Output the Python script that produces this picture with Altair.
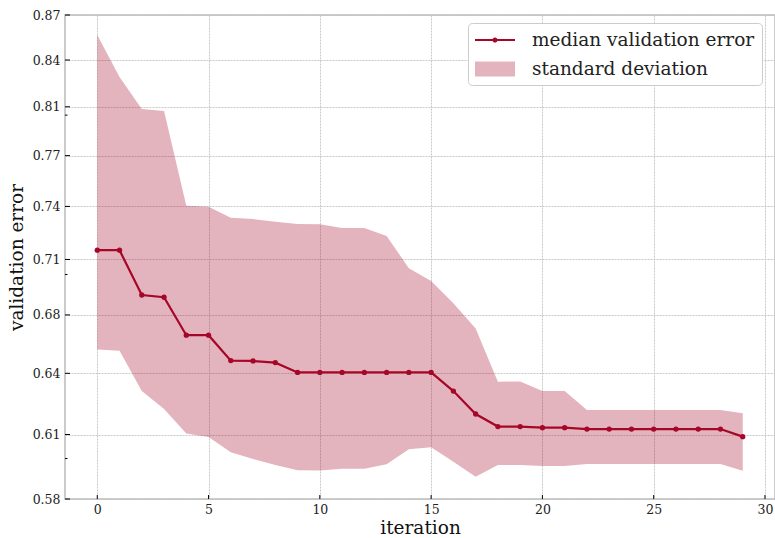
import altair as alt
import pandas as pd

# ---------------- data ----------------
iterations = list(range(30))
median_error = [0.7144, 0.7144, 0.6881, 0.6868, 0.6653, 0.6653, 0.6513, 0.6511,
                0.6502, 0.6449, 0.6449, 0.6449, 0.6449, 0.6449, 0.6449, 0.6449,
                0.6349, 0.6228, 0.6163, 0.6163, 0.6157, 0.6157, 0.6150, 0.6150,
                0.6150, 0.6150, 0.6150, 0.6150, 0.6150, 0.6111]
upper_error = [0.8556, 0.8260, 0.8042, 0.8028, 0.7415, 0.7409, 0.7341, 0.7333,
               0.7317, 0.7303, 0.7301, 0.7278, 0.7278, 0.7230, 0.7037, 0.6962,
               0.6833, 0.6691, 0.6399, 0.6400, 0.6349, 0.6349, 0.6249, 0.6249,
               0.6249, 0.6249, 0.6249, 0.6249, 0.6249, 0.6232]
lower_error = [0.6574, 0.6567, 0.6349, 0.6254, 0.6127, 0.6109, 0.6032, 0.5998,
               0.5968, 0.5942, 0.5940, 0.5949, 0.5949, 0.5971, 0.6047, 0.6057,
               0.5984, 0.5909, 0.5968, 0.5968, 0.5963, 0.5963, 0.5973, 0.5973,
               0.5973, 0.5973, 0.5973, 0.5973, 0.5973, 0.5939]

x_ticks = [0, 5, 10, 15, 20, 25, 30]
y_ticks = [0.58, 0.6122, 0.6444, 0.6767, 0.7089, 0.7411, 0.7733, 0.8056, 0.8378, 0.87]
y_minor_ticks = [0.6, 0.7, 0.8]
line_name = "median validation error"
band_name = "standard deviation"

LINE = "#A60628"
BAND_FILL = "rgba(166,6,40,0.3)"
FONT = "DejaVu Serif"

df = pd.DataFrame({
    "iteration": iterations,
    "median": median_error,
    "upper": upper_error,
    "lower": lower_error,
    "line_series": line_name,
    "band_series": band_name,
})

x_scale = alt.Scale(domain=[-1.45, 30.45], nice=False, zero=False)
y_scale = alt.Scale(type="log", domain=[0.58, 0.87], nice=False)

x_axis = alt.Axis(values=x_ticks, title="iteration", ticks=False, domain=False,
                  labelFont=FONT, labelFontSize=12.5, labelColor="#222222",
                  labelPadding=4, titleFont=FONT, titleFontSize=18.5,
                  titleFontWeight="normal", titleColor="#111111", titlePadding=3)
y_axis = alt.Axis(values=y_ticks, format=".2f", title="validation error",
                  ticks=False, domain=False, labelFont=FONT, labelFontSize=12.5,
                  labelColor="#222222", labelPadding=5, titleFont=FONT,
                  titleFontSize=18.5, titleFontWeight="normal",
                  titleColor="#111111", titlePadding=6)


def X(field):
    return alt.X(field, scale=x_scale, axis=x_axis, title="iteration")


def Y(field):
    return alt.Y(field, scale=y_scale, axis=y_axis, title="validation error")


LINE_SYMBOL = "M-1,-0.05H1V0.05H-1ZM-0.13,0A0.13,0.13,0,1,1,0.13,0A0.13,0.13,0,1,1,-0.13,0Z"
RECT_SYMBOL = "M-1,-0.38H1V0.38H-1Z"

legend_band = alt.Legend(
    title=None, orient="none", legendX=410, legendY=44, padding=0,
    labelFont=FONT, labelFontSize=18.5, labelColor="#222222", labelOffset=17,
    labelLimit=400, symbolType=RECT_SYMBOL, symbolSize=1600, symbolStrokeWidth=0,
    symbolOpacity=1, clipHeight=20, zindex=5,
)

band = alt.Chart(df).mark_area(strokeWidth=0).encode(
    x=X("iteration:Q"),
    y=Y("lower:Q"),
    y2="upper:Q",
    fill=alt.Fill("band_series:N",
                  scale=alt.Scale(domain=[band_name], range=[BAND_FILL]),
                  legend=legend_band),
)

legend_line = alt.Legend(
    title="\u00a0", titleOrient="bottom", titleFont=FONT, titleFontSize=18.5,
    titlePadding=9, orient="none", legendX=403, legendY=8,
    fillColor="white", strokeColor="#cccccc", cornerRadius=4, padding=7,
    labelFont=FONT, labelFontSize=18.5, labelColor="#222222", labelOffset=17,
    labelLimit=400, symbolType=LINE_SYMBOL, symbolSize=1600, symbolFillColor=LINE,
    symbolStrokeColor=LINE, symbolStrokeWidth=0, clipHeight=20, zindex=4,
)

line = alt.Chart(df).mark_line(strokeWidth=2.2).encode(
    x=X("iteration:Q"),
    y=Y("median:Q"),
    color=alt.Color("line_series:N",
                    scale=alt.Scale(domain=[line_name], range=[LINE]),
                    legend=legend_line),
)

points = alt.Chart(df).mark_point(filled=True, size=28, opacity=1, color=LINE).encode(
    x=X("iteration:Q"),
    y=Y("median:Q"),
)

x_tick_marks = alt.Chart(pd.DataFrame({"t": x_ticks})).mark_rule(
    color="black", strokeWidth=1
).encode(
    x=X("t:Q"),
    y=alt.value(484), y2=alt.value(480),
)

y_tick_marks = alt.Chart(pd.DataFrame({"t": y_ticks})).mark_rule(
    color="black", strokeWidth=1
).encode(
    y=Y("t:Q"),
    x=alt.value(0), x2=alt.value(5),
)

y_minor_marks = alt.Chart(pd.DataFrame({"t": y_minor_ticks})).mark_rule(
    color="black", strokeWidth=1
).encode(
    y=Y("t:Q"),
    x=alt.value(0), x2=alt.value(2.5),
)

chart = alt.layer(band, line, points, x_tick_marks, y_tick_marks, y_minor_marks).properties(
    width=710, height=484,
    autosize=alt.AutoSizeParams(type="none"),
    padding={"left": 65, "top": 15, "right": 0, "bottom": 39},
    background="white",
).resolve_legend(
    fill="independent", color="independent"
).configure_view(
    stroke="#bcbcbc", strokeWidth=1.5
).configure_axis(
    grid=True, gridColor="#c2c2c2", gridDash=[2, 1], gridWidth=0.9, gridOpacity=1
)

chart.save("out.html", embed_options={"renderer": "svg", "actions": False})
